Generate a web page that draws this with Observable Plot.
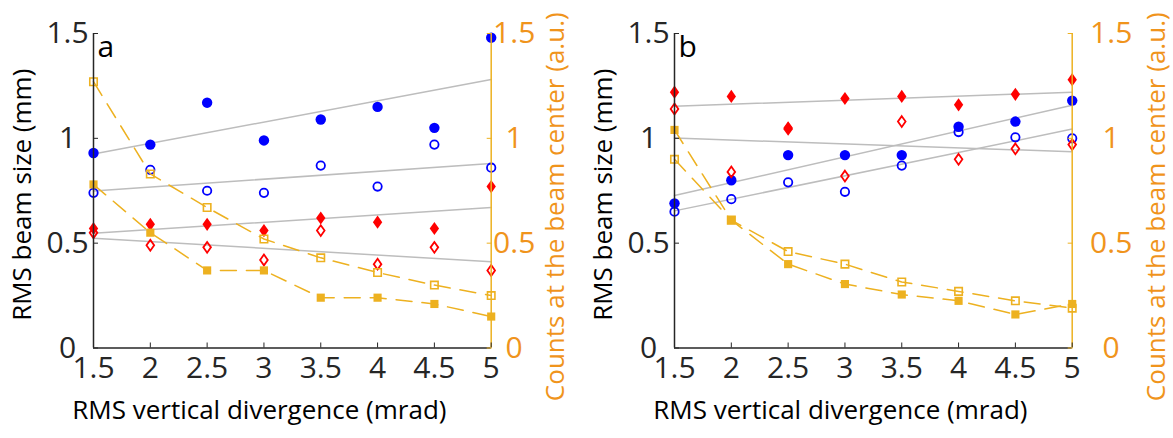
<!DOCTYPE html>
<html><head>
<meta charset="utf-8">
<script src="https://cdn.jsdelivr.net/npm/d3@7"></script>
<script src="https://cdn.jsdelivr.net/npm/@observablehq/plot@0.6"></script>
<style>
body{margin:0;background:#fff}
#wrap{position:relative;width:1173px;height:438px;overflow:hidden;background:#fff}
.panel{position:absolute;top:0}
</style>
</head><body>
<div id="wrap"></div>
<script>
// x values (RMS vertical divergence, mrad)
const divergence = [1.5, 2, 2.5, 3, 3.5, 4, 4.5, 5];
const xTicks = [1.5, 2, 2.5, 3, 3.5, 4, 4.5, 5];
const yTicks = [0, 0.5, 1, 1.5];
const fitX = [1.5, 5];

// Panel a
const aBlueFilled  = [0.93, 0.97, 1.17, 0.99, 1.09, 1.15, 1.05, 1.48];
const aBlueOpen    = [0.74, 0.85, 0.75, 0.74, 0.87, 0.77, 0.97, 0.86];
const aRedFilled   = [0.57, 0.59, 0.59, 0.56, 0.62, 0.60, 0.57, 0.77];
const aRedOpen     = [0.55, 0.49, 0.48, 0.42, 0.56, 0.40, 0.48, 0.37];
const aCountOpen   = [1.27, 0.83, 0.67, 0.52, 0.43, 0.36, 0.30, 0.25];
const aCountFilled = [0.78, 0.55, 0.37, 0.37, 0.24, 0.24, 0.21, 0.15];
const aFitBlueFilled = [0.925, 1.281];
const aFitBlueOpen   = [0.749, 0.880];
const aFitRedFilled  = [0.547, 0.670];
const aFitRedOpen    = [0.524, 0.411];

// Panel b
const bBlueFilled  = [0.69, 0.80, 0.92, 0.92, 0.92, 1.055, 1.08, 1.18];
const bBlueOpen    = [0.65, 0.71, 0.79, 0.745, 0.87, 1.03, 1.005, 1.00];
const bRedFilled   = [1.22, 1.20, 1.05, 1.19, 1.20, 1.16, 1.21, 1.28];
const bRedOpen     = [1.14, 0.84, 1.045, 0.82, 1.08, 0.90, 0.95, 0.97];
const bCountOpen   = [0.90, 0.61, 0.46, 0.40, 0.315, 0.27, 0.225, 0.19];
const bCountFilled = [1.04, 0.61, 0.40, 0.305, 0.255, 0.225, 0.16, 0.21];
const bFitBlueFilled = [0.727, 1.158];
const bFitBlueOpen   = [0.654, 1.044];
const bFitRedFilled  = [1.153, 1.220];
const bFitRedOpen    = [1.001, 0.936];

const BLUE = "#0000ff", RED = "#ff0000", ORANGE = "#EDB120", ORANGE_TXT = "#F0941C", GRAY = "#bdbdbd", AX = "#262626";
const FONT = "'Open Sans', sans-serif";

// tall MATLAB-like diamond
const tallDiamond = {
  draw(ctx, size) {
    const r = Math.sqrt(size / Math.PI);
    const w = r * 0.85, h = r * 1.2;
    ctx.moveTo(0, -h); ctx.lineTo(w, 0); ctx.lineTo(0, h); ctx.lineTo(-w, 0); ctx.closePath();
  }
};

const pts = (ys) => divergence.map((x, i) => ({x, y: ys[i]}));
const fit = (ys) => fitX.map((x, i) => ({x, y: ys[i]}));

function panel(cfg) {
  const marks = [
    // fit lines
    ...cfg.fits.map(f => Plot.line(fit(f), {x: "x", y: "y", stroke: GRAY, strokeWidth: 1.5})),
    // beam size markers
    Plot.dot(pts(cfg.blueFilled), {x: "x", y: "y", r: 5.2, fill: BLUE, stroke: "none"}),
    Plot.dot(pts(cfg.blueOpen), {x: "x", y: "y", r: 4.2, fill: "none", stroke: BLUE, strokeWidth: 1.8}),
    Plot.dot(pts(cfg.redFilled), {x: "x", y: "y", r: 5.5, symbol: tallDiamond, fill: RED, stroke: "none"}),
    Plot.dot(pts(cfg.redOpen), {x: "x", y: "y", r: 4.5, symbol: tallDiamond, fill: "none", stroke: RED, strokeWidth: 1.8}),
    // counts (right axis, same 0..1.5 scale)
    Plot.line(pts(cfg.countOpen), {x: "x", y: "y", stroke: ORANGE, strokeWidth: 1.5, strokeDasharray: "16,10"}),
    Plot.line(pts(cfg.countFilled), {x: "x", y: "y", stroke: ORANGE, strokeWidth: 1.5, strokeDasharray: "16,10"}),
    Plot.dot(pts(cfg.countOpen), {x: "x", y: "y", r: 4.2, symbol: "square", fill: "none", stroke: ORANGE, strokeWidth: 1.6}),
    Plot.dot(pts(cfg.countFilled), {x: "x", y: "y", r: 4.6, symbol: "square", fill: ORANGE, stroke: "none"}),
    // axis lines
    Plot.ruleY([0], {stroke: AX, strokeWidth: 1.5}),
    Plot.ruleX([1.5], {stroke: AX, strokeWidth: 1.5}),
    Plot.ruleX([5], {stroke: ORANGE, strokeWidth: 1.5}),
    // axes
    Plot.axisX({ticks: xTicks, tickSize: -5, tickPadding: 14, stroke: AX, fill: AX, fontSize: 30, label: null, tickFormat: d => String(d)}),
    Plot.axisY({anchor: "left", ticks: yTicks, tickSize: -5, tickPadding: 31, textAnchor: "middle", stroke: AX, fill: AX, fontSize: 30, label: null, tickFormat: d => String(d)}),
    Plot.axisY({anchor: "right", ticks: yTicks, tickSize: -5, tickPadding: cfg.rightPad, textAnchor: "middle", stroke: ORANGE, fill: ORANGE_TXT, fontSize: 30, label: null, tickFormat: d => String(d)}),
    // titles
    Plot.text([cfg.letter], {frameAnchor: "top-left", dx: 4, dy: 2, text: d => d, fontSize: 30, fill: "#000", textAnchor: "start", lineAnchor: "top"}),
    Plot.text(["RMS beam size (mm)"], {frameAnchor: "left", rotate: -90, textAnchor: "middle", lineAnchor: "middle", dx: -71, dy: 4, text: d => d, fontSize: 26, fill: "#000"}),
    Plot.text(["Counts at the beam center (a.u.)"], {frameAnchor: "right", rotate: -90, textAnchor: "middle", lineAnchor: "middle", dx: cfg.rightLabelDx, dy: 16, text: d => d, fontSize: 26, fill: ORANGE_TXT}),
    Plot.text(["RMS vertical divergence (mrad)"], {frameAnchor: "bottom", textAnchor: "middle", lineAnchor: "middle", dx: -33, dy: 63, text: d => d, fontSize: 26, fill: "#000"})
  ];
  return Plot.plot({
    width: cfg.width, height: 438,
    marginLeft: 93, marginRight: cfg.marginRight, marginTop: 33, marginBottom: 90.5,
    x: {domain: [1.5, 5]},
    y: {domain: [0, 1.5]},
    style: {fontFamily: FONT, background: "transparent", overflow: "visible", color: AX},
    marks
  });
}

const wrap = document.getElementById("wrap");
const pa = panel({
  width: 581, marginRight: 90.3, letter: "a", rightPad: 28, rightLabelDx: 64,
  blueFilled: aBlueFilled, blueOpen: aBlueOpen, redFilled: aRedFilled, redOpen: aRedOpen,
  countOpen: aCountOpen, countFilled: aCountFilled,
  fits: [aFitBlueFilled, aFitBlueOpen, aFitRedFilled, aFitRedOpen]
});
pa.classList.add("panel"); pa.style.left = "0px";
const pb = panel({
  width: 592, marginRight: 101.3, letter: "b", rightPad: 44, rightLabelDx: 84,
  blueFilled: bBlueFilled, blueOpen: bBlueOpen, redFilled: bRedFilled, redOpen: bRedOpen,
  countOpen: bCountOpen, countFilled: bCountFilled,
  fits: [bFitBlueFilled, bFitBlueOpen, bFitRedFilled, bFitRedOpen]
});
pb.classList.add("panel"); pb.style.left = "581px";
wrap.appendChild(pa); wrap.appendChild(pb);
</script>
</body></html>
